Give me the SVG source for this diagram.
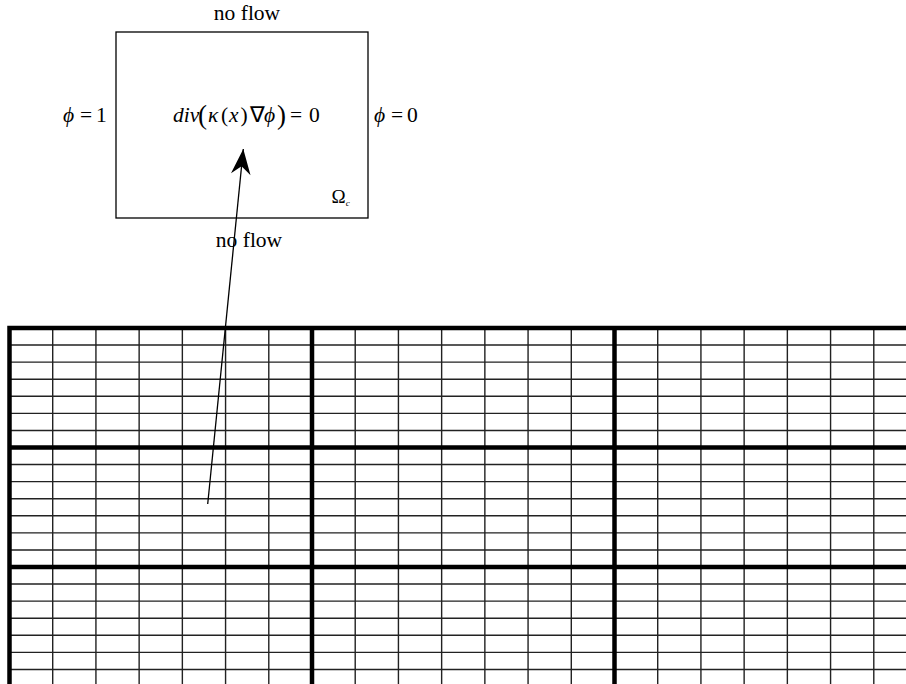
<svg xmlns="http://www.w3.org/2000/svg" width="906" height="684" viewBox="0 0 906 684">
<style>
  text { font-family: "Liberation Serif", "Times New Roman", serif; fill: #000; }
  .lbl { font-size: 21.5px; }
  .it { font-style: italic; }
  .thin { stroke: #222; stroke-width: 1.4; fill: none; }
  .thick { stroke: #000; stroke-width: 4.5; fill: none; }
  .box { stroke: #000; stroke-width: 1.3; fill: #fff; }
  .conn { stroke: #000; stroke-width: 1.3; fill: none; }
</style>
<defs>
  <marker id="ah" markerUnits="userSpaceOnUse" markerWidth="30" markerHeight="30" viewBox="-24 -10 26 20" refX="0" refY="0" orient="auto" overflow="visible">
    <path d="M0,0 L-22,-8.5 L-15,0 L-22,8.5 Z" fill="#000"/>
  </marker>
</defs>
<rect width="906" height="684" fill="#fff"/>

<g id="mesh">
  <path class="thin" d="M52.71,328V684 M95.93,328V684 M139.14,328V684 M182.36,328V684 M225.57,328V684 M268.79,328V684
    M355.21,328V684 M398.43,328V684 M441.64,328V684 M484.86,328V684 M528.07,328V684 M571.29,328V684
    M657.71,328V684 M700.93,328V684 M744.14,328V684 M787.36,328V684 M830.57,328V684 M873.79,328V684"/>
  <path class="thin" d="M9.5,345.07H906 M9.5,362.14H906 M9.5,379.21H906 M9.5,396.29H906 M9.5,413.36H906 M9.5,430.43H906
    M9.5,464.57H906 M9.5,481.64H906 M9.5,498.71H906 M9.5,515.79H906 M9.5,532.86H906 M9.5,549.93H906
    M9.5,584.07H906 M9.5,601.14H906 M9.5,618.21H906 M9.5,635.29H906 M9.5,652.36H906 M9.5,669.43H906"/>
  <path class="thick" d="M7.25,328H906 M7.25,447.5H906 M7.25,567H906 M9.5,325.75V684 M312,325.75V684 M614.5,325.75V684"/>
</g>

<g id="domain">
  <rect class="box" x="116" y="32" width="252" height="186"/>
  <text class="lbl" font-family="Liberation Serif, serif" x="247" y="20" text-anchor="middle">no flow</text>
  <text class="lbl" font-family="Liberation Serif, serif" x="249" y="246.5" text-anchor="middle">no flow</text>
  <text class="lbl" font-family="Liberation Serif, serif" y="122"><tspan class="it" x="63">ϕ</tspan><tspan x="80">=</tspan><tspan x="96">1</tspan></text>
  <text class="lbl" font-family="Liberation Serif, serif" y="122"><tspan class="it" x="374">ϕ</tspan><tspan x="391">=</tspan><tspan x="407">0</tspan></text>
  <text class="lbl" font-family="Liberation Serif, serif" y="122" font-size="22"><tspan class="it" x="173">div</tspan><tspan x="198" font-size="27" dy="1.5">(</tspan><tspan class="it" x="208" dy="-1.5">κ</tspan><tspan x="221">(</tspan><tspan class="it" x="229">x</tspan><tspan x="240.5">)</tspan><tspan x="249.5">∇</tspan><tspan class="it" x="264">ϕ</tspan><tspan x="277" font-size="27" dy="1.5">)</tspan><tspan x="290" dy="-1.5">=</tspan><tspan x="309">0</tspan></text>
  <text font-family="Liberation Serif, serif" x="331.5" y="203" font-size="19">Ω<tspan class="it" font-size="9" dy="3">c</tspan></text>
</g>

<g id="connectors">
  <line class="conn" x1="207.7" y1="504" x2="243.3" y2="149" marker-end="url(#ah)"/>
</g>
</svg>
